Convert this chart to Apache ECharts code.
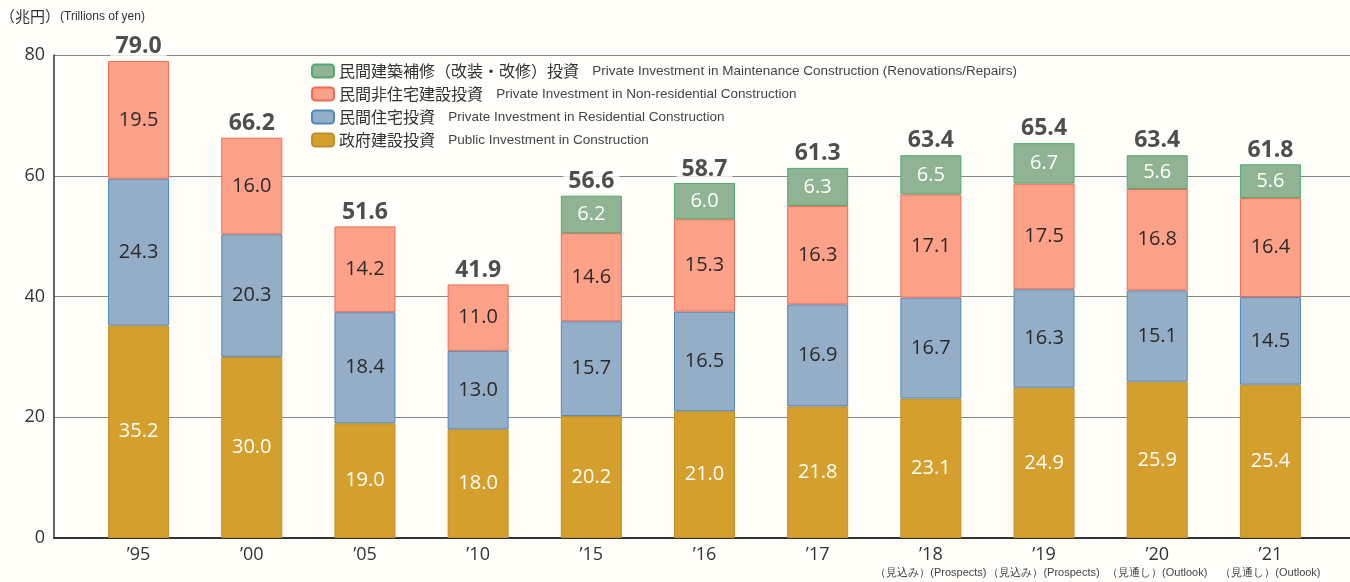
<!DOCTYPE html>
<html>
	<head>
		<meta charset="utf-8">
		<title></title>
		<style type="text/css">
			* {
				margin: 0;
				padding: 0;
			}

			html,
			body {
				width: 100%;
				height: 100%;
				background: #FFFEF8;
			}

			#main {
				width: 1350px;
				height: 582px;
			}
		</style>
	</head>
	<body>
		<div id="main"></div>
		<script src="https://cdn.jsdelivr.net/npm/echarts@6/dist/echarts.min.js"></script>
		<script>
			var years = ['95', '00', '05', '10', '15', '16', '17', '18', '19', '20', '21']
			var yearNotes = ['', '', '', '', '', '', '', '（見込み）(Prospects)', '（見込み）(Prospects)', '（見通し）(Outlook)', '（見通し）(Outlook)']
			var publicInv = [35.2, 30.0, 19.0, 18.0, 20.2, 21.0, 21.8, 23.1, 24.9, 25.9, 25.4]
			var residInv = [24.3, 20.3, 18.4, 13.0, 15.7, 16.5, 16.9, 16.7, 16.3, 15.1, 14.5]
			var nonResInv = [19.5, 16.0, 14.2, 11.0, 14.6, 15.3, 16.3, 17.1, 17.5, 16.8, 16.4]
			var maintInv = ['-', '-', '-', '-', 6.2, 6.0, 6.3, 6.5, 6.7, 5.6, 5.6]
			var totals = [79.0, 66.2, 51.6, 41.9, 56.6, 58.7, 61.3, 63.4, 65.4, 63.4, 61.8]

			var names = ['政府建設投資', '民間住宅投資', '民間非住宅建設投資', '民間建築補修（改装・改修）投資']
			var namesEn = {
				'政府建設投資': 'Public Investment in Construction',
				'民間住宅投資': 'Private Investment in Residential Construction',
				'民間非住宅建設投資': 'Private Investment in Non-residential Construction',
				'民間建築補修（改装・改修）投資': 'Private Investment in Maintenance Construction (Renovations/Repairs)'
			}

			var numFont = '"Open Sans", "Noto Sans", sans-serif'
			var narrow = '"Liberation Sans Narrow", "Liberation Sans", sans-serif'
			var jp = '"Noto Sans CJK JP", sans-serif'

			function barLabel(color) {
				return {
					show: true,
					position: 'inside',
					color: color,
					fontSize: 20,
					fontFamily: numFont,
					formatter: function(p) {
						return Number(p.value).toFixed(1)
					}
				}
			}

			var myChart = echarts.init(document.getElementById('main'));
			var option = {
				animation: false,
				backgroundColor: '#FFFEF8',
				graphic: [{
					type: 'text',
					left: 0,
					top: 9,
					style: {
						text: '{a|（兆円）}{b|(Trillions of yen)}',
						rich: {
							a: { fontFamily: jp, fontSize: 15, fill: '#333' },
							b: { fontFamily: narrow, fontSize: 12, fill: '#333' }
						}
					}
				}],
				legend: {
					orient: 'vertical',
					left: 306,
					top: 58,
					itemWidth: 22,
					itemHeight: 13,
					itemGap: 7,
					data: [names[3], names[2], names[1], names[0]],
					formatter: function(name) {
						return '{jp|' + name + '}    {en|' + namesEn[name] + '}'
					},
					textStyle: {
						rich: {
							jp: { fontFamily: jp, fontSize: 16, color: '#333' },
							en: { fontFamily: narrow, fontSize: 13.5, color: '#444' }
						}
					}
				},
				grid: [{
					left: 82,
					right: 23,
					top: 55,
					bottom: 44
				}, {
					left: 54,
					right: 0,
					top: 55,
					bottom: 44
				}],
				xAxis: [{
					type: 'category',
					gridIndex: 0,
					data: years,
					axisLine: { show: false },
					axisTick: { show: false },
					axisLabel: {
						interval: 0,
						margin: 6,
						formatter: function(v, i) {
							var s = '{y|’' + v + '}'
							if (yearNotes[i]) s += '\n{n|' + yearNotes[i] + '}'
							return s
						},
						rich: {
							y: { fontFamily: numFont, fontSize: 18, color: '#333', lineHeight: 22 },
							n: { fontFamily: narrow, fontSize: 11, color: '#444', lineHeight: 14 }
						}
					}
				}, {
					type: 'category',
					gridIndex: 1,
					data: years,
					axisLine: { show: true, lineStyle: { color: '#333', width: 2 } },
					axisTick: { show: false },
					axisLabel: { show: false }
				}],
				yAxis: [{
					type: 'value',
					gridIndex: 0,
					min: 0,
					max: 80,
					interval: 20,
					show: false
				}, {
					type: 'value',
					gridIndex: 1,
					min: 0,
					max: 80,
					interval: 20,
					axisLine: { show: true, lineStyle: { color: '#333', width: 1.5 } },
					axisTick: { show: false },
					axisLabel: { fontFamily: numFont, fontSize: 18, color: '#333', margin: 9 },
					splitLine: { lineStyle: { color: '#888', width: 1.2 } }
				}],
				series: [{
					name: names[0],
					type: 'bar',
					stack: 'a',
					barWidth: 61,
					data: publicInv,
					itemStyle: { color: '#D49F2C', borderColor: '#C08F2A', borderWidth: 1 },
					label: barLabel('#fff')
				}, {
					name: names[1],
					type: 'bar',
					stack: 'a',
					data: residInv,
					itemStyle: { color: '#95AEC8', borderColor: '#4E88BC', borderWidth: 1 },
					label: barLabel('#2a2a2a')
				}, {
					name: names[2],
					type: 'bar',
					stack: 'a',
					data: nonResInv,
					itemStyle: { color: '#FDA189', borderColor: '#EF6B52', borderWidth: 1 },
					label: barLabel('#2a2a2a')
				}, {
					name: names[3],
					type: 'bar',
					stack: 'a',
					data: maintInv,
					itemStyle: { color: '#8FB393', borderColor: '#4FAA72', borderWidth: 1 },
					label: barLabel('#fff')
				}, {
					name: 'total',
					type: 'scatter',
					symbolSize: 0,
					data: totals,
					z: 5,
					label: {
						show: true,
						position: 'top',
						distance: 3,
						fontFamily: numFont,
						fontSize: 23,
						fontWeight: 'bold',
						color: '#222',
						backgroundColor: '#FFFEF8',
						padding: [0, 5],
						formatter: function(p) {
							return Number(p.value).toFixed(1)
						}
					}
				}]
			};
			myChart.setOption(option);
		</script>
	</body>
</html>
